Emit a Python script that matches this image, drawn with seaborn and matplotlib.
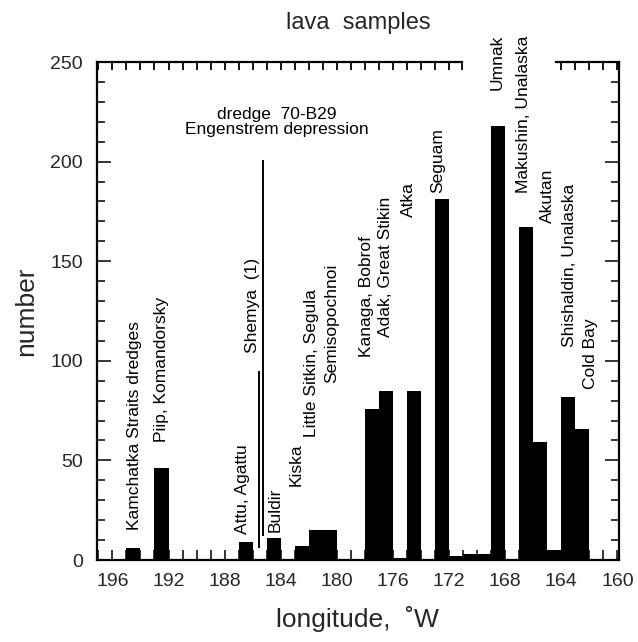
import numpy as np
import pandas as pd
import matplotlib
matplotlib.use("Agg")
import matplotlib.pyplot as plt
import seaborn as sns

# ---- data ----
bin_centers = [194.5, 192.5, 186.5, 184.5, 182.5, 181.5, 180.5, 177.5, 176.5, 175.5,
               174.5, 172.5, 171.5, 170.5, 169.5, 168.5, 166.5, 165.5, 164.5, 163.5, 162.5]
counts = [6, 46, 9, 11, 7, 15, 15, 76, 85, 1,
          85, 181, 2, 3, 3, 218, 167, 59, 5, 82, 66]

labels = ["Kamchatka Straits dredges", "Piip, Komandorsky", "Attu, Agattu", "Shemya  (1)",
          "Buldir", "Kiska", "Little Sitkin, Segula", "Semisopochnoi", "Kanaga, Bobrof",
          "Adak, Great Stikin", "Atka", "Seguam", "Umnak", "Makushin, Unalaska", "Akutan",
          "Shishaldin, Unalaska", "Cold Bay"]
label_lon = [194.4, 192.5, 186.7, 186.0, 184.4, 182.9, 181.8, 180.4, 177.9,
             176.5, 174.9, 172.8, 168.6, 166.7, 165.0, 163.4, 161.9]
label_base = [15, 59, 13, 104, 14, 37, 62, 89, 102,
              112, 172, 184, 236, 184, 169, 107, 86]

dredge_text = "dredge  70-B29\nEngenstrem depression"
dredge_text_pos = (184.3, 220)
leader_lon = [185.55, 185.25]
leader_y0 = [6, 12]
leader_y1 = [95, 201]

x_ticks = [196, 192, 188, 184, 180, 176, 172, 168, 164, 160]
y_ticks = [0, 50, 100, 150, 200, 250]

# ---- style ----
sns.set_style("ticks")
plt.rcParams["font.family"] = ["Liberation Sans", "DejaVu Sans"]

fig = plt.figure(figsize=(6.38, 6.42), dpi=100)
ax = fig.add_axes([0.152, 0.1277, 0.818, 0.7757])

df = pd.DataFrame({"lon": bin_centers, "n": counts})
sns.histplot(data=df, x="lon", weights="n", binwidth=1, binrange=(160, 197),
             color="black", alpha=1, linewidth=0, ax=ax)

ax.set_xlim(197.1, 159.9)
ax.set_ylim(0, 250)

# leader lines
for lx, a, b in zip(leader_lon, leader_y0, leader_y1):
    ax.plot([lx, lx], [a, b], color="black", lw=1.4, solid_capstyle="butt")

# labels
for t, lx, yb in zip(labels, label_lon, label_base):
    ax.text(lx, yb, t, rotation=90, ha="center", va="bottom", fontsize=12.5,
            color="black", clip_on=False)
ax.text(dredge_text_pos[0], dredge_text_pos[1], dredge_text, ha="center", va="center",
        fontsize=12.5, linespacing=1.0, color="black")

# spines
for s in ["left", "bottom", "right"]:
    ax.spines[s].set_linewidth(1.6)
    ax.spines[s].set_color("black")
ax.spines["top"].set_visible(False)

xa = ax.get_xaxis_transform()
ax.plot([197.1, 171.1], [1, 1], transform=xa, color="black", lw=1.6, clip_on=False,
        solid_capstyle="projecting")
ax.plot([164.4, 159.9], [1, 1], transform=xa, color="black", lw=1.6, clip_on=False,
        solid_capstyle="projecting")
top_ticks = [v for v in range(160, 198) if (v >= 172 or v <= 164)] + [171.1]
ax.vlines(top_ticks, 1 - 8 / 498, 1, transform=xa, color="black", lw=1.3)

ax.set_xticks(x_ticks)
ax.set_xticks(range(160, 198), minor=True)
ax.set_yticks(y_ticks)
ax.set_yticks(range(0, 251, 10), minor=True)
ax.tick_params(axis="x", which="both", direction="in", length=7, width=1.3,
               labelsize=14, pad=9, top=False)
ax.tick_params(axis="y", which="major", direction="in", length=10, width=1.3,
               labelsize=14, pad=10, right=True)
ax.tick_params(axis="y", which="minor", direction="in", length=6, width=1.3, right=True)

ax.set_xlabel("longitude,  ˚W", fontsize=19, labelpad=12)
ax.set_ylabel("number", fontsize=19, labelpad=9)
ax.set_title("lava  samples", fontsize=17, pad=24)

fig.savefig("out.png", dpi=100)
